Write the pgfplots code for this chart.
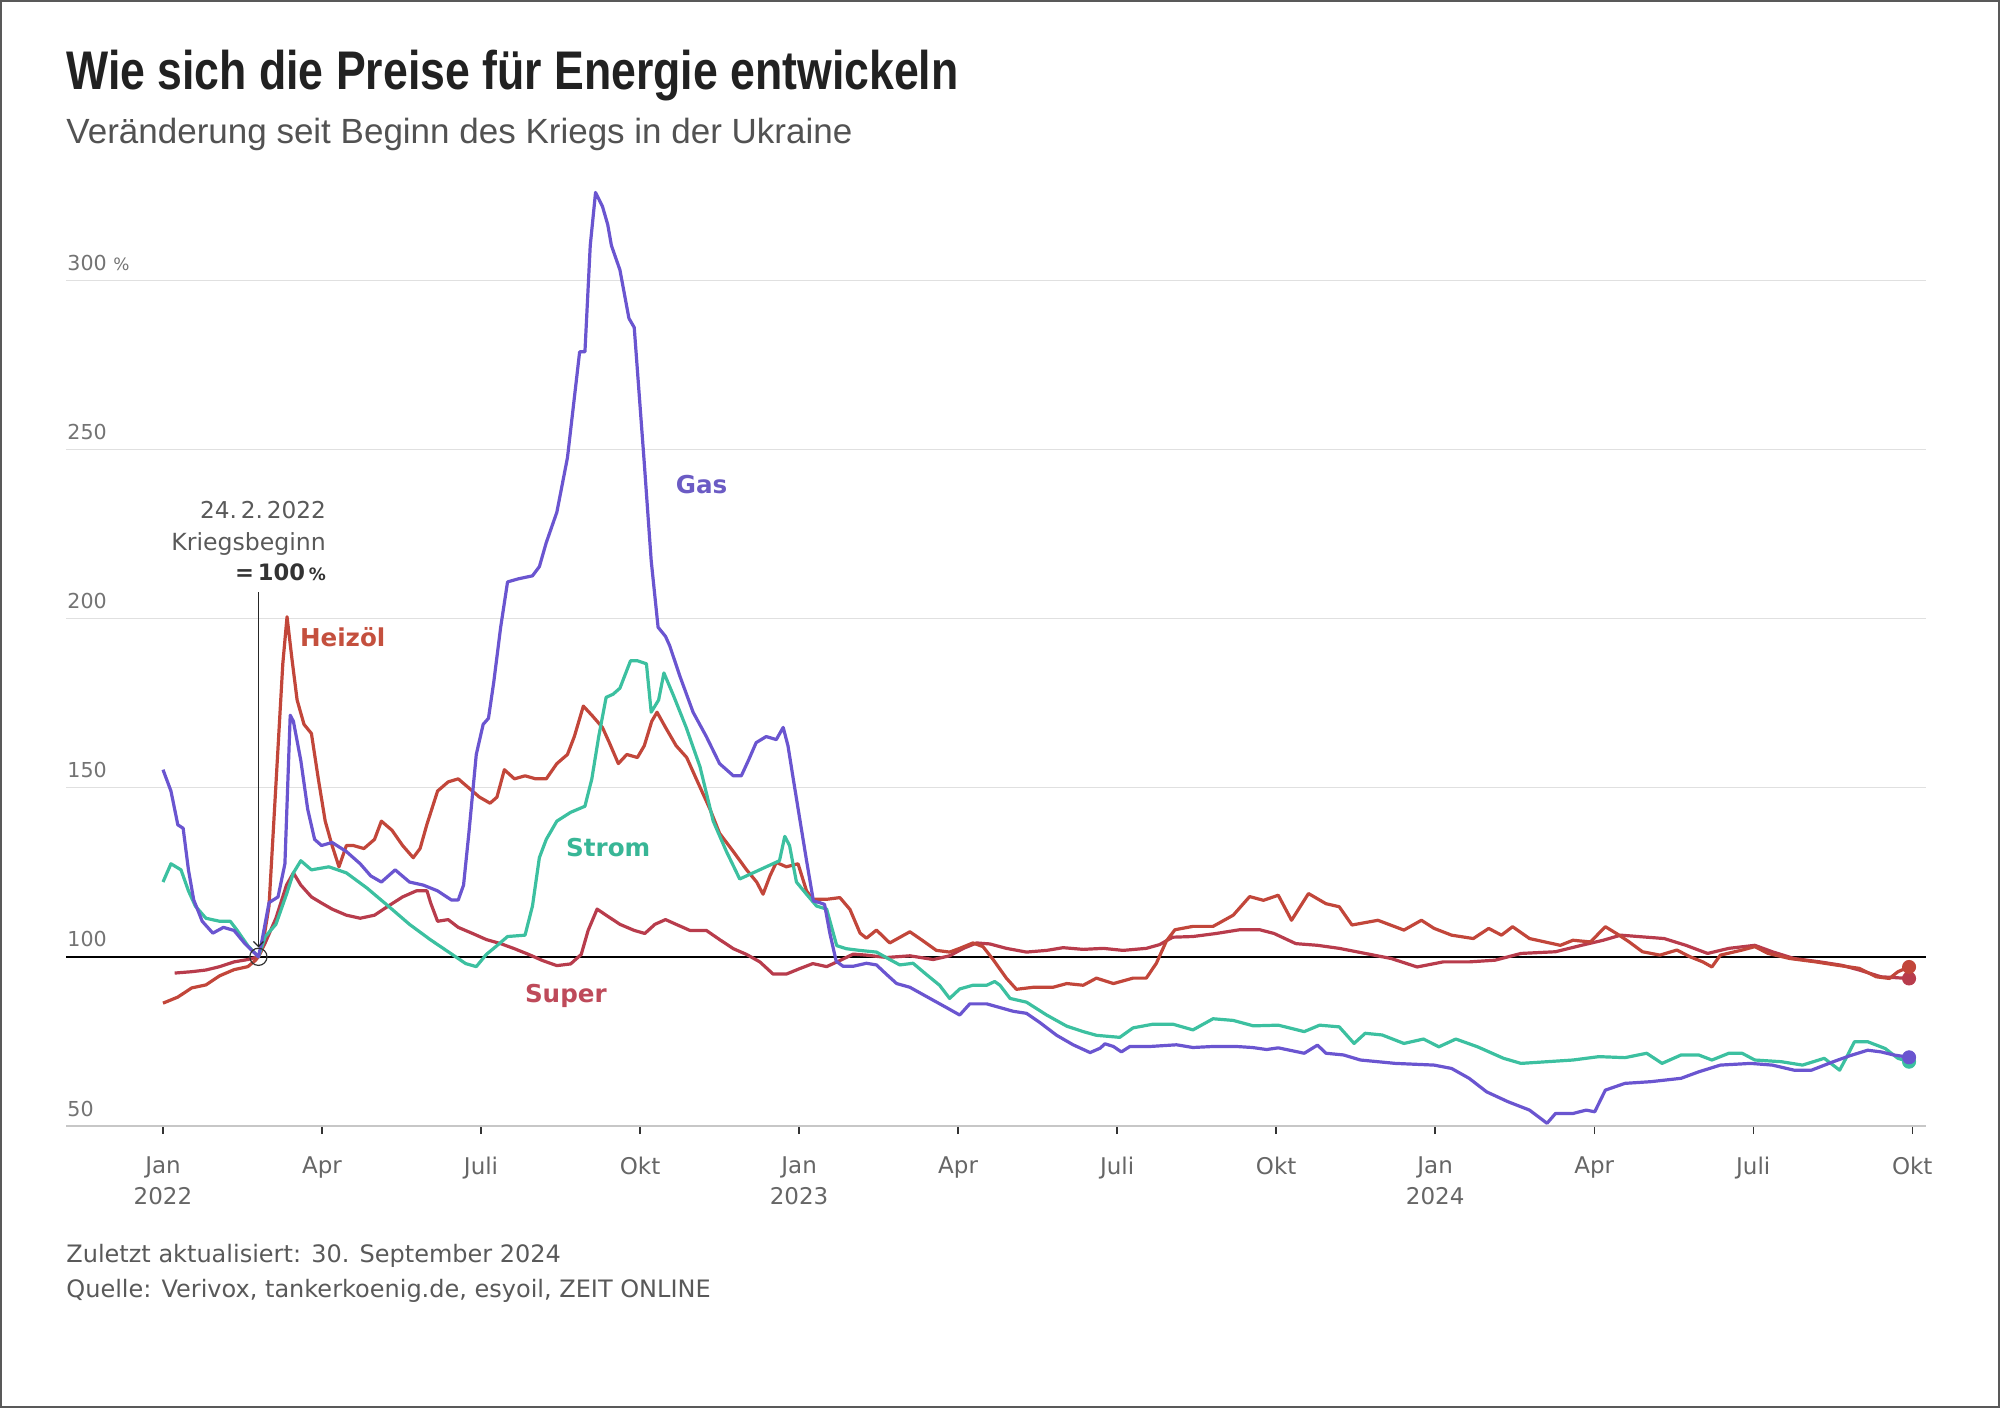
\documentclass[border=0pt]{standalone}
\usepackage{fontspec}
\usepackage{pgfplots}
\pgfplotsset{compat=1.18}
\usetikzlibrary{arrows.meta}
\setmainfont{DejaVu Sans}
\newfontfamily\titlefont[FakeStretch=0.82]{Liberation Sans}
\newfontfamily\subfont{Liberation Sans}
\definecolor{gasc}{HTML}{6A55D0}
\definecolor{stromc}{HTML}{3CC0A0}
\definecolor{heizc}{HTML}{C2463A}
\definecolor{superc}{HTML}{B83C4C}
\definecolor{gasl}{HTML}{6B5BC4}
\definecolor{stroml}{HTML}{38B696}
\definecolor{heizl}{HTML}{C4503E}
\definecolor{superl}{HTML}{BE4A5A}
\newcommand{\pct}{{\fontsize{8.5}{9}\selectfont\%}}

\pgfplotstableread{
x y
0 155.3
0.15 149
0.28 139
0.38 138
0.48 125.7
0.58 116.8
0.74 110.5
0.94 107
1.14 108.7
1.34 107.8
1.54 104
1.80 100
1.87 105
2.0 116
2.17 117.7
2.3 127.5
2.4 171.4
2.46 169.6
2.6 158
2.73 143.6
2.86 134.7
2.99 132.9
3.19 133.8
3.46 131.1
3.72 127.5
3.92 123.9
4.12 122.1
4.38 125.7
4.65 122.1
4.91 121.2
5.18 119.5
5.44 116.8
5.57 116.8
5.67 121.2
5.77 136.5
5.91 159.8
6.04 168.7
6.14 170.5
6.24 181.2
6.37 197.4
6.5 210.8
6.7 211.7
6.97 212.6
7.1 215.3
7.23 222.4
7.43 231.4
7.63 247.5
7.86 278.8
7.96 278.8
8.06 310.2
8.16 325.9
8.29 321.8
8.39 316.4
8.46 310.2
8.62 303.0
8.79 288.7
8.89 286.0
9.08 245.8
9.21 217.1
9.34 197.4
9.48 194.7
9.56 191.9
9.75 183
10.0 172.3
10.25 165.1
10.5 157.1
10.76 153.5
10.91 153.5
11.04 157.9
11.19 163.3
11.38 165.1
11.57 164.2
11.7 167.8
11.79 162.4
11.89 152.6
12.01 141
12.14 128.5
12.27 116.5
12.39 116
12.48 115.5
12.58 107
12.7 98.7
12.83 97.2
13.02 97.2
13.27 98.1
13.46 97.6
13.65 94.8
13.84 92.1
14.09 91
14.4 88.3
14.78 85
15.03 82.8
15.22 86.1
15.54 86.1
15.79 85
16.04 83.9
16.29 83.3
16.54 80.6
16.86 76.8
17.17 74
17.49 71.7
17.68 73
17.77 74.3
17.93 73.5
18.08 71.9
18.24 73.5
18.62 73.5
19.12 74
19.43 73.2
19.81 73.5
20.25 73.5
20.55 73.2
20.82 72.6
21.04 73.1
21.53 71.5
21.78 73.9
21.94 71.5
22.27 71
22.59 69.5
23.25 68.5
23.98 68
24.31 67
24.64 64.1
24.97 60.1
25.37 57.2
25.78 54.7
26.11 50.8
26.27 53.7
26.6 53.7
26.85 54.7
27.01 54.2
27.21 60.6
27.58 62.6
28.07 63.1
28.64 64.1
28.97 66
29.38 68
29.95 68.5
30.36 68
30.77 66.5
31.1 66.5
31.51 69
31.83 70.8
32.16 72.4
32.41 71.9
32.65 71
32.94 70.3
}\gasdata

\pgfplotstableread{
x y
0 122.1
0.15 127.5
0.34 125.7
0.48 119.5
0.61 115
0.81 111.4
1.07 110.5
1.27 110.5
1.4 107.8
1.6 103.3
1.80 100
1.93 106
2.13 109.6
2.33 118.5
2.46 124.8
2.6 128.4
2.8 125.7
3.13 126.6
3.46 124.8
3.85 120.3
4.25 115
4.65 109.6
5.04 105.1
5.38 101.5
5.71 98
5.91 97.1
6.1 100.7
6.3 103.3
6.5 106
6.83 106.4
6.97 115
7.1 129.3
7.23 134.7
7.43 140.1
7.69 142.7
7.96 144.5
8.09 152.6
8.22 165.1
8.36 176.7
8.49 177.6
8.62 179.4
8.82 187.5
8.95 187.5
9.12 186.6
9.21 172.3
9.35 175.9
9.45 183.9
9.62 177.6
9.87 167.8
10.13 156.2
10.38 140.1
10.63 131.1
10.88 123
11.13 124.8
11.38 126.6
11.63 128.4
11.73 135.6
11.82 132.9
11.95 122.1
12.14 118.5
12.33 115
12.52 114.1
12.71 103.3
12.89 102.4
13.14 101.9
13.46 101.4
13.71 99.2
13.9 97.6
14.15 98.1
14.4 94.8
14.65 91.6
14.84 87.7
15.03 90.5
15.28 91.6
15.54 91.6
15.69 92.7
15.79 91.6
15.98 87.7
16.29 86.6
16.67 82.8
17.05 79.5
17.36 77.9
17.61 76.8
18.05 76.2
18.3 79
18.68 80.1
19.05 80.1
19.43 78.4
19.81 81.7
20.19 81.2
20.57 79.6
21.04 79.8
21.53 77.9
21.82 79.8
22.19 79.3
22.47 74.4
22.68 77.4
23.0 76.9
23.41 74.4
23.78 75.7
24.07 73.4
24.39 75.7
24.8 73.4
25.29 70
25.62 68.5
26.11 69
26.6 69.5
27.09 70.5
27.58 70.2
27.99 71.5
28.28 68.5
28.64 71
28.97 71
29.22 69.5
29.54 71.5
29.79 71.5
30.03 69.5
30.53 69
30.93 68
31.34 70
31.63 66.5
31.75 70
31.91 74.9
32.16 74.9
32.49 72.9
32.73 70
32.94 69
}\stromdata

\pgfplotstableread{
x y
0 86.3
0.28 88.1
0.54 90.8
0.81 91.7
1.07 94.4
1.34 96.2
1.6 97.1
1.74 98.9
1.80 100
1.87 102.4
2.0 115
2.13 150.8
2.26 186.6
2.34 200.5
2.43 188.4
2.53 175.9
2.66 168.7
2.8 166
2.93 152.6
3.06 140.1
3.19 132.9
3.32 126.6
3.46 132.9
3.59 132.9
3.79 132
3.99 134.7
4.12 140.1
4.32 137.4
4.52 132.9
4.72 129.3
4.85 132
4.98 139.2
5.18 149
5.38 151.7
5.57 152.6
5.77 149.9
5.97 147.2
6.17 145.4
6.3 147.2
6.44 155.3
6.63 152.6
6.83 153.5
7.03 152.6
7.23 152.6
7.43 157.1
7.63 159.8
7.76 165.1
7.93 174.1
8.09 171.4
8.29 167.8
8.42 163.3
8.59 157.1
8.75 159.8
8.95 158.9
9.08 162.4
9.22 169.6
9.32 172.3
9.48 167.8
9.68 162.4
9.88 158.9
10.06 152.6
10.32 143.6
10.5 136.5
10.76 131.1
11.01 125.7
11.2 122.1
11.32 118.5
11.45 123.9
11.57 127.9
11.76 126.6
11.98 127.5
12.14 119.5
12.26 117
12.52 117
12.77 117.5
12.96 114
13.15 107
13.27 105.5
13.46 107.9
13.71 104.1
14.09 107.4
14.34 104.7
14.59 101.9
14.84 101.4
15.03 102.5
15.28 104.1
15.47 103
15.66 99.2
15.91 93.7
16.1 90.4
16.42 91
16.79 91
17.05 92.1
17.36 91.6
17.61 93.7
17.93 92.1
18.3 93.7
18.55 93.7
18.74 98.1
18.93 104.7
19.09 108
19.43 109
19.81 109
20.19 112.3
20.5 117.8
20.76 116.7
21.04 118.2
21.29 110.8
21.61 118.7
21.94 115.7
22.19 114.8
22.43 109.4
22.92 110.8
23.41 107.9
23.74 110.8
23.98 108.4
24.31 106.4
24.72 105.4
25.01 108.4
25.25 106.4
25.46 108.9
25.78 105.4
26.36 103.4
26.6 104.9
26.93 104.4
27.21 108.9
27.42 106.9
27.66 104.4
27.91 101.5
28.24 100.5
28.56 102
28.81 100
29.05 98.5
29.22 97
29.38 100.5
29.79 102
30.03 103
30.28 101
30.69 99.5
31.18 98.5
31.59 97.5
32.0 96.6
32.32 94.1
32.57 93.6
32.73 95.6
32.94 97
}\heizdata

\pgfplotstableread{
x y
0.22 95.2
0.54 95.6
0.81 96.1
1.07 97.1
1.34 98.5
1.6 99.2
1.80 100
1.93 104.2
2.13 111.4
2.33 121.2
2.46 124.8
2.6 121.2
2.8 117.7
2.99 115.9
3.19 114.1
3.46 112.3
3.72 111.4
3.99 112.3
4.25 115
4.52 117.7
4.78 119.5
4.98 119.5
5.05 115.9
5.18 110.5
5.38 111
5.57 108.7
5.84 106.9
6.1 105.1
6.37 103.9
6.63 102.4
6.9 100.7
7.16 98.9
7.43 97.4
7.69 97.9
7.89 100.7
8.02 107.8
8.19 114.1
8.36 112.3
8.62 109.6
8.89 107.8
9.09 106.9
9.28 109.6
9.48 111
9.68 109.6
9.94 107.8
10.25 107.8
10.5 105.1
10.76 102.4
11.01 100.7
11.26 98.5
11.51 94.9
11.76 94.9
12.01 96.5
12.26 98
12.52 97.1
12.77 98.9
13.02 100.8
13.27 100.5
13.65 99.8
14.09 100.3
14.53 99.2
14.84 100.3
15.1 102.5
15.35 104.1
15.6 103.8
15.91 102.5
16.29 101.4
16.67 101.9
16.98 102.7
17.36 102.2
17.74 102.5
18.11 101.9
18.55 102.5
18.8 103.6
19.05 105.8
19.43 106
19.87 106.9
20.31 108
20.69 108
20.96 106.9
21.37 103.9
21.78 103.4
22.19 102.5
22.68 101
23.17 99.5
23.66 97
24.15 98.5
24.64 98.5
25.13 99
25.62 101
26.27 101.5
26.76 103.4
27.17 104.9
27.5 106.4
27.91 105.9
28.32 105.4
28.73 103.4
29.14 101
29.54 102.5
30.03 103.4
30.36 101.5
30.77 99.5
31.26 98.5
31.67 97.5
32.0 96.1
32.41 94.1
32.94 93.6
}\superdata

\begin{document}
\begin{tikzpicture}
\path[use as bounding box] (0,0) rectangle (1000pt,704pt);
\draw[black!65, line width=1.2pt] (0.6pt,0.6pt) rectangle (999.4pt,703.4pt);
\node[anchor=base west, inner sep=0pt, text=black!87] at (33pt,659pt)
  {\titlefont\fontsize{27.2}{30}\selectfont\bfseries Wie sich die Preise für Energie entwickeln};
\node[anchor=base west, inner sep=0pt, text=black!68] at (33pt,632pt)
  {\subfont\fontsize{17.5}{20}\selectfont Veränderung seit Beginn des Kriegs in der Ukraine};
\node[anchor=base west, inner sep=0pt, text=black!65] at (33pt,73pt)
  {\fontsize{12}{14}\selectfont Zuletzt aktualisiert: 30. September 2024};
\node[anchor=base west, inner sep=0pt, text=black!65] at (33pt,55.5pt)
  {\fontsize{12}{14}\selectfont Quelle: Verivox, tankerkoenig.de, esyoil, ZEIT ONLINE};

\begin{axis}[
  at={(33pt,141pt)}, anchor=south west,
  width=930pt, height=473.7pt, scale only axis,
  xmin=-1.83, xmax=33.26, ymin=50, ymax=330,
  clip=false,
  axis x line*=bottom, axis y line*=left,
  x axis line style={draw=black!22, line width=1.2pt},
  y axis line style={draw=none},
  xtick={0,3,...,33},
  xticklabels={{Jan\\2022},Apr,Juli,Okt,{Jan\\2023},Apr,Juli,Okt,{Jan\\2024},Apr,Juli,Okt},
  tick align=outside,
  major tick length=4pt,
  xtick style={draw=black!80, line width=0.7pt},
  ytick style={draw=none},
  xticklabel style={align=center, anchor=north, inner sep=0pt, yshift=-11.3pt,
     font=\fontsize{11.5}{15.5}\selectfont, text=black!60},
  ytick={50,100,150,200,250,300},
  yticklabels={50,100,150,200,250,{300 \pct}},
  yticklabel style={anchor=base west, inner sep=0pt, yshift=5pt, xshift=4.5pt,
     font=\fontsize{10.3}{12}\selectfont, text=black!55},
  ymajorgrids,
  grid style={draw=black!12, line width=0.6pt},
]
\addplot[black, line width=0.7pt] coordinates {(-1.83,100) (33.26,100)};
\addplot[superc, line width=1.6pt, line join=round] table[x=x,y=y] {\superdata};
\addplot[heizc, line width=1.6pt, line join=round] table[x=x,y=y] {\heizdata};
\addplot[stromc, line width=1.6pt, line join=round] table[x=x,y=y] {\stromdata};
\addplot[gasc, line width=1.6pt, line join=round] table[x=x,y=y] {\gasdata};
\addplot[only marks, mark=*, mark size=3.3pt, superc] coordinates {(32.94,93.6)};
\addplot[only marks, mark=*, mark size=3.3pt, heizc] coordinates {(32.94,97)};
\addplot[only marks, mark=*, mark size=3.3pt, stromc] coordinates {(32.94,69)};
\addplot[only marks, mark=*, mark size=3.3pt, gasc] coordinates {(32.94,70.3)};
\addplot[black!85, line width=0.6pt, -{Straight Barb[length=2.5pt,width=5pt]}] coordinates {(1.8,207.7) (1.8,102.8)};
\addplot[only marks, mark=o, mark size=4.3pt, black!80, mark options={line width=0.6pt}] coordinates {(1.8,100)};

\node[anchor=base east, inner sep=0pt, text=black!65, font=\fontsize{11.6}{13}\selectfont] at (axis cs:3.08,229.6) {24.\,2.\,2022};
\node[anchor=base east, inner sep=0pt, text=black!65, font=\fontsize{11.8}{13}\selectfont] at (axis cs:3.08,220.2) {Kriegsbeginn};
\node[anchor=base east, inner sep=0pt, text=black!80, font=\fontsize{11.3}{13}\selectfont\bfseries] at (axis cs:3.08,211.1) {=\,100\,\pct};

\node[text=gasl, font=\fontsize{12.3}{14}\selectfont\bfseries] at (axis cs:10.16,239.7) {Gas};
\node[text=heizl, font=\fontsize{12.3}{14}\selectfont\bfseries] at (axis cs:3.39,194.5) {Heizöl};
\node[text=stroml, font=\fontsize{12.3}{14}\selectfont\bfseries] at (axis cs:8.4,132.4) {Strom};
\node[text=superl, font=\fontsize{12.3}{14}\selectfont\bfseries] at (axis cs:7.6,88.3) {Super};
\end{axis}
\end{tikzpicture}
\end{document}
